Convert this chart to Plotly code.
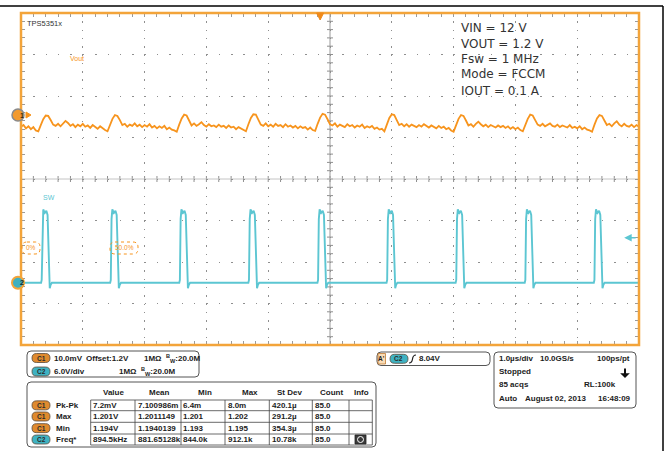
import numpy as np
import plotly.graph_objects as go

# ---------------- data ----------------
# time base: 1.0 us/div, 10 divisions, screen centre = 0 us
t_start_us = -5.0
t_step_us = 0.04
# C1 (Vout): deviation from the 1.2 V offset in mV, one value every 0.04 us
vout_dev_mv = [
    -2.8, -2.4, -3.2, -2.7, -3.4, -2.9, -3.7, -3.9, -2.4, -1.0,
    -0.1, -0.2, -1.2, -2.3, -2.6, -2.1, -2.7, -2.0, -1.4, -1.9, -2.6, -2.2, -2.9, -2.3,
    -2.7, -2.1, -2.8, -2.5, -3.1, -2.4, -2.9, -3.3, -2.7, -3.2, -3.6, -3.9, -2.4, -0.9,
    0.0, -0.2, -1.2, -2.4, -2.1, -2.8, -2.3, -2.6, -2.0, -2.7, -2.3, -2.9, -2.4, -2.8,
    -2.2, -3.0, -2.6, -3.2, -2.7, -3.1, -2.6, -3.4, -3.0, -3.5, -3.7, -4.0, -2.3, -0.8,
    0.1, -0.1, -1.3, -2.5, -2.0, -2.6, -2.2, -1.7, -2.4, -2.8, -2.2, -2.7, -2.5, -2.9,
    -2.3, -2.8, -2.6, -3.1, -2.5, -3.0, -2.8, -3.4, -2.9, -3.3, -3.6, -3.9, -2.2, -0.7,
    0.2, 0.1, -1.1, -2.3, -2.6, -2.0, -2.7, -2.3, -2.8, -2.1, -2.6, -2.4, -2.9, -2.2,
    -2.8, -2.5, -3.0, -2.6, -3.2, -2.7, -3.1, -2.9, -3.5, -3.0, -3.6, -3.8, -2.1, -0.6,
    0.3, 0.1, -1.0, -2.2, -2.5, -2.0, -2.8, -2.3, -2.6, -2.9, -2.2, -2.7, -2.4, -3.0,
    -2.5, -2.8, -2.3, -3.1, -2.7, -3.0, -2.6, -3.3, -3.0, -3.5, -3.3, -3.9, -2.3, -0.7,
    0.2, 0.0, -1.2, -2.4, -2.1, -2.7, -2.2, -2.8, -2.3, -2.6, -2.9, -2.4, -2.8, -2.2,
    -2.7, -3.0, -2.5, -2.9, -3.2, -2.6, -3.1, -2.8, -3.4, -3.1, -3.7, -4.0, -2.4, -0.9,
    0.0, -0.2, -1.3, -2.5, -2.2, -2.8, -2.1, -1.6, -2.2, -2.7, -2.3, -2.9, -2.4, -2.7,
    -3.0, -2.5, -2.9, -2.6, -3.1, -2.7, -3.3, -2.9, -3.4, -3.0, -3.6, -3.9, -2.4, -0.9,
    0.1, -0.1, -1.2, -2.3, -2.6, -2.1, -2.7, -2.4, -2.0, -2.6, -2.8, -2.3, -2.9, -2.5,
    -2.7, -3.0, -2.4, -3.1, -2.8, -3.2, -2.7, -3.4, -3.0, -3.5, -3.7, -4.0, -2.3, -0.8,
    0.0, -0.2, -1.3, -2.4, -2.1, -2.7, -2.0, -1.5, -2.3, -2.7, -2.1, -2.6, -2.8, -2.3,
    -2.9, -2.4, -2.8,
]
# C2 (SW): rising-edge times in us
sw_rise_us = [-4.665, -3.547, -2.429, -1.311, -0.193, 0.925, 2.043, 3.161, 4.279]
# one SW pulse, relative to its rising edge
sw_pulse_dt_us = [-0.01, 0.0, 0.012, 0.025, 0.05, 0.075, 0.095, 0.11, 0.13, 0.145, 0.165]
sw_pulse_v = [0.0, 0.4, 9.2, 10.6, 10.1, 10.4, 9.8, 4.5, -0.8, -0.3, 0.0]

# vertical settings
c1_offset_v = 1.2
c1_v_per_div = 0.010
c1_pos_div = 1.54
c2_v_per_div = 6.0
c2_pos_div = -2.5
trig_arrow_v = 6.5
trig_pos_us = -0.16

# annotation / readout texts
info_lines = ["VIN = 12 V", "VOUT = 1.2 V", "Fsw = 1 MHz", "Mode = FCCM", "IOUT = 0.1 A"]
meas_channels = ["C1", "C1", "C1", "C2"]
meas_names = ["Pk-Pk", "Max", "Min", "Freq*"]
meas_value = ["7.2mV", "1.201V", "1.194V", "894.5kHz"]
meas_mean = ["7.100986m", "1.2011149", "1.1940139", "881.65128k"]
meas_min = ["6.4m", "1.201", "1.193", "844.0k"]
meas_max = ["8.0m", "1.202", "1.195", "912.1k"]
meas_std = ["420.1µ", "291.2µ", "354.3µ", "10.78k"]
meas_count = ["85.0", "85.0", "85.0", "85.0"]
meas_headers = ["Value", "Mean", "Min", "Max", "St Dev", "Count", "Info"]

# ---------------- styling ----------------
W, H = 669, 451
PX0, PX1, PY0, PY1 = 21, 639, 13, 345
DIV_PX_X = (PX1 - PX0) / 10.0
DIV_PX_Y = (PY1 - PY0) / 8.0
FRAME = "#f3a43a"
ORANGE = "#f7941d"
CYAN = "#5cc6d2"
GRIDC = "#8f8f8f"
TXT = "#1c1c1c"
FONT = "Liberation Sans, Arial, sans-serif"


def X(px):
    return (px - PX0) / (PX1 - PX0)


def Y(py):
    return (PY1 - py) / (PY1 - PY0)


def rrect_path(x0, y0, x1, y1, r):
    return (f"M {X(x0+r)},{Y(y0)} L {X(x1-r)},{Y(y0)} Q {X(x1)},{Y(y0)} {X(x1)},{Y(y0+r)} "
            f"L {X(x1)},{Y(y1-r)} Q {X(x1)},{Y(y1)} {X(x1-r)},{Y(y1)} "
            f"L {X(x0+r)},{Y(y1)} Q {X(x0)},{Y(y1)} {X(x0)},{Y(y1-r)} "
            f"L {X(x0)},{Y(y0+r)} Q {X(x0)},{Y(y0)} {X(x0+r)},{Y(y0)} Z")


shapes = []
annots = []


def txt(s, px, py, size=8, color=TXT, anchor="left", bold=True, family=FONT):
    annots.append(dict(text=f"<b>{s}</b>" if bold else s, x=X(px), y=Y(py), xref="paper", yref="paper",
                       xanchor=anchor, yanchor="middle", showarrow=False, borderpad=0,
                       font=dict(size=size, color=color, family=family)))


def rrect(x0, y0, x1, y1, r, line="#555", fill="rgba(0,0,0,0)", width=1):
    shapes.append(dict(type="path", path=rrect_path(x0, y0, x1, y1, r), xref="paper", yref="paper",
                       line=dict(color=line, width=width), fillcolor=fill, layer="above"))


def line(x0, y0, x1, y1, color="#333", width=1):
    shapes.append(dict(type="line", x0=X(x0), y0=Y(y0), x1=X(x1), y1=Y(y1), xref="paper", yref="paper",
                       line=dict(color=color, width=width), layer="above"))


def badge(ch, cx, cy):
    fill = "#df8a2e" if ch == "C1" else "#3fb2c2"
    rrect(cx - 9, cy - 4.5, cx + 9, cy + 4.5, 4.5, line="#5a4a3a", fill=fill, width=0.8)
    txt(ch, cx, cy, size=6.5, color="#2a2a2a", anchor="center")


fig = go.Figure()

# ---- centre cross (line + minor ticks) ----
minor_x = np.round(np.arange(-5, 5.001, 0.2), 2)
minor_y = np.round(np.arange(-4, 4.001, 0.2), 2)
dx, dy = 1.0 / DIV_PX_X, 1.0 / DIV_PX_Y
for xv in minor_x:
    shapes.append(dict(type="line", x0=float(xv), x1=float(xv), y0=-3 * dy, y1=3 * dy, xref="x", yref="y",
                       line=dict(color=GRIDC, width=1), layer="below"))
for yv in minor_y:
    shapes.append(dict(type="line", x0=-3 * dx, x1=3 * dx, y0=float(yv), y1=float(yv), xref="x", yref="y",
                       line=dict(color=GRIDC, width=1), layer="below"))
shapes.append(dict(type="line", x0=0, x1=0, y0=-4, y1=4, xref="x", yref="y",
                   line=dict(color="#9a9a9a", width=1), layer="below"))
shapes.append(dict(type="line", x0=-5, x1=5, y0=0, y1=0, xref="x", yref="y",
                   line=dict(color="#c4c4c4", width=1), layer="below"))

# screen frame (drawn before the channel markers so they sit on top of it)
shapes.append(dict(type="rect", x0=0, x1=1, y0=0, y1=1, xref="paper", yref="paper",
                   line=dict(color=FRAME, width=2.5), layer="above"))

# ---- C1 Vout ----
t_vout = t_start_us + t_step_us * np.arange(len(vout_dev_mv))
vout = c1_offset_v + np.array(vout_dev_mv) / 1000.0
fig.add_trace(go.Scatter(x=t_vout, y=vout, mode="lines", yaxis="y2", hoverinfo="skip",
                         line=dict(color=ORANGE, width=1.8)))

# ---- C2 SW ----
t_sw, v_sw = [t_start_us], [0.0]
for tr in sw_rise_us:
    for dt, v in zip(sw_pulse_dt_us, sw_pulse_v):
        t_sw.append(tr + dt)
        v_sw.append(v)
t_sw.append(-t_start_us)
v_sw.append(0.0)
fig.add_trace(go.Scatter(x=t_sw, y=v_sw, mode="lines", yaxis="y3", hoverinfo="skip",
                         line=dict(color=CYAN, width=1.9)))

# ---- channel ground/offset markers ----
r1_v = 6.0 / DIV_PX_Y * c1_v_per_div
shapes.append(dict(type="circle", xref="paper", yref="y2", x0=X(12), x1=X(24),
                   y0=c1_offset_v - r1_v, y1=c1_offset_v + r1_v,
                   line=dict(color="#8a8a8a", width=1.5), fillcolor="#f29a2e", layer="above"))
annots.append(dict(text="<b>1</b>", x=X(18), y=c1_offset_v, xref="paper", yref="y2", showarrow=False,
                   font=dict(size=7, color="#3a2a10", family=FONT)))
shapes.append(dict(type="path", xref="paper", yref="paper", layer="above",
                   path=f"M {X(26)},{Y(112)} L {X(31)},{Y(115)} L {X(26)},{Y(118)} Z",
                   line=dict(color=ORANGE, width=1), fillcolor=ORANGE))
r2_v = 6.0 / DIV_PX_Y * c2_v_per_div
shapes.append(dict(type="circle", xref="paper", yref="y3", x0=X(12), x1=X(24), y0=-r2_v, y1=r2_v,
                   line=dict(color=FRAME, width=2), fillcolor="#3fb0c0", layer="above"))
annots.append(dict(text="<b>2</b>", x=X(18), y=0, xref="paper", yref="y3", showarrow=False,
                   font=dict(size=7, color="#1a2a30", family=FONT)))
# trigger position marker (top)
tp = PX0 + (trig_pos_us + 5) * DIV_PX_X
shapes.append(dict(type="path", xref="paper", yref="paper", layer="above",
                   path=f"M {X(tp - 3.5)},{Y(13)} L {X(tp + 3.5)},{Y(13)} L {X(tp)},{Y(20)} Z",
                   line=dict(color="#f08a1a", width=1), fillcolor="#f08a1a"))
# trigger level arrow (right edge)
annots.append(dict(x=4.76, y=trig_arrow_v, xref="x", yref="y3", ax=13, ay=0, showarrow=True, text="",
                   arrowhead=2, arrowsize=1, arrowwidth=1.5, arrowcolor=CYAN))

# outer black frame
line(0, 6, 663, 6, color="#000", width=1.5)
line(663, 6, 663, 451, color="#000", width=1.5)

# on-screen labels
txt("TPS5351x", 26, 23, size=7.5, color="#333", bold=False)
txt("Vout", 69, 58.5, size=7, color=ORANGE, bold=False)
txt("SW", 42, 197.5, size=7, color=CYAN, bold=False)
for i, s in enumerate(info_lines):
    txt(s, 460, [28, 43.5, 59, 74, 91][i], size=12, color="#333", bold=False,
        family="DejaVu Sans, Verdana, sans-serif")
# cursor readouts
shapes.append(dict(type="path", path=rrect_path(22, 242, 40, 254, 5), xref="paper", yref="paper",
                   line=dict(color=ORANGE, width=1, dash="dot"), layer="above"))
shapes.append(dict(type="path", path=rrect_path(110, 242, 138, 254, 5), xref="paper", yref="paper",
                   line=dict(color=ORANGE, width=1, dash="dot"), layer="above"))
txt("0%", 31, 248, size=6.5, color=ORANGE, anchor="center", bold=False)
txt("50.0%", 124.5, 248, size=6.5, color=ORANGE, anchor="center", bold=False)

# ---- readout panel 1 (vertical settings) ----
rrect(27, 351, 199, 377, 4)
badge("C1", 41, 358)
txt("10.0mV", 53, 358)
txt("Offset:1.2V", 85, 358)
txt("1MΩ  <sup>B</sup><sub>W</sub>:20.0M", 143, 358)
badge("C2", 41, 371.5)
txt("6.0V/div", 53, 371.5)
txt("1MΩ  <sup>B</sup><sub>W</sub>:20.0M", 118, 371.5)

# ---- readout panel 2 (measurements) ----
rrect(27, 382, 376, 447, 4)
col_edges = [90.7, 135, 181, 225, 269.3, 312.3, 349, 372.3]
row_edges = [400, 410.7, 422.3, 434, 445]
for cx in col_edges:
    line(cx, row_edges[0], cx, row_edges[-1], color="#444", width=0.8)
for ry in row_edges:
    line(col_edges[0], ry, col_edges[-1], ry, color="#444", width=0.8)
head_x = [113, 159, 205, 249.5, 289, 331, 361]
for hx, h in zip(head_x, meas_headers):
    txt(h, hx, 392, anchor="center")
cols = [meas_value, meas_mean, meas_min, meas_max, meas_std, meas_count]
for r in range(4):
    cy = (row_edges[r] + row_edges[r + 1]) / 2
    badge(meas_channels[r], 41, cy)
    txt(meas_names[r], 55, cy)
    for c, colvals in enumerate(cols):
        txt(colvals[r], col_edges[c] + 1.5, cy)
# info icon
shapes.append(dict(type="rect", x0=X(355), x1=X(366), y0=Y(444), y1=Y(435), xref="paper", yref="paper",
                   line=dict(color="#222", width=0.8), fillcolor="#3a3a3a", layer="above"))
shapes.append(dict(type="circle", x0=X(357.5), x1=X(363.5), y0=Y(442.5), y1=Y(436.5), xref="paper",
                   yref="paper", line=dict(color="#fff", width=1), fillcolor="#3a3a3a", layer="above"))

# ---- readout panel 3 (trigger) ----
rrect(377, 352, 490, 365.5, 4)
shapes.append(dict(type="rect", x0=X(378), x1=X(385.5), y0=Y(364), y1=Y(353.5), xref="paper", yref="paper",
                   line=dict(color="#c07a30", width=0.8), fillcolor="#f9dcb6", layer="above"))
txt("A'", 381.7, 358.8, size=6.5, anchor="center")
badge("C2", 399, 358.8)
shapes.append(dict(type="path", path=f"M {X(409)},{Y(363)} Q {X(412)},{Y(363)} {X(412.5)},{Y(359)} "
                   f"Q {X(413)},{Y(355)} {X(416)},{Y(355)}", xref="paper", yref="paper",
                   line=dict(color="#222", width=1.2), layer="above"))
txt("8.04V", 418, 358.8)

# ---- readout panel 4 (timebase) ----
rrect(494, 352, 636, 408, 4)
txt("1.0µs/div", 498, 358)
txt("10.0GS/s", 539, 358)
txt("100ps/pt", 631, 358, anchor="right")
txt("Stopped", 498, 372)
txt("85 acqs", 498, 384.5)
txt("RL:100k", 583, 384.5)
txt("Auto", 498, 398)
txt("August 02, 2013", 524, 398)
txt("16:48:09", 632, 398, anchor="right")
annots.append(dict(x=X(625), y=Y(378), xref="paper", yref="paper", ax=0, ay=-11, showarrow=True, text="",
                   arrowhead=1, arrowsize=0.8, arrowwidth=2, arrowcolor="#111"))

axis_common = dict(zeroline=False, showticklabels=False, showline=False,
                   ticks="inside", ticklen=4, tickcolor="#9a9a9a", tickwidth=1, mirror="ticks",
                   showgrid=True, gridcolor=GRIDC, gridwidth=1.4)
fig.update_layout(
    width=W, height=H, autosize=False,
    margin=dict(l=PX0, r=W - PX1, t=PY0, b=H - PY1, pad=0),
    paper_bgcolor="white", plot_bgcolor="white", showlegend=False,
    xaxis=dict(range=[-5, 5], tick0=0, dtick=1, griddash=f"1.4px,{DIV_PX_Y / 5 - 1.4:.2f}px",
               minor=dict(dtick=0.2, tick0=0, ticks="inside", ticklen=4, tickcolor="#9a9a9a", showgrid=False),
               **axis_common),
    yaxis=dict(range=[-4, 4], tick0=0, dtick=1, griddash=f"1.4px,{DIV_PX_X / 5 - 1.4:.2f}px",
               minor=dict(dtick=0.2, tick0=0, ticks="inside", ticklen=4, tickcolor="#9a9a9a", showgrid=False),
               **axis_common),
    yaxis2=dict(overlaying="y", visible=False,
                range=[c1_offset_v - (4 + c1_pos_div) * c1_v_per_div,
                       c1_offset_v + (4 - c1_pos_div) * c1_v_per_div]),
    yaxis3=dict(overlaying="y", visible=False,
                range=[-(4 + c2_pos_div) * c2_v_per_div, (4 - c2_pos_div) * c2_v_per_div]),
    shapes=shapes, annotations=annots,
    font=dict(family=FONT),
)
fig.write_html("out.html", config={"displayModeBar": False},
               post_script="document.body.style.margin='0';")
